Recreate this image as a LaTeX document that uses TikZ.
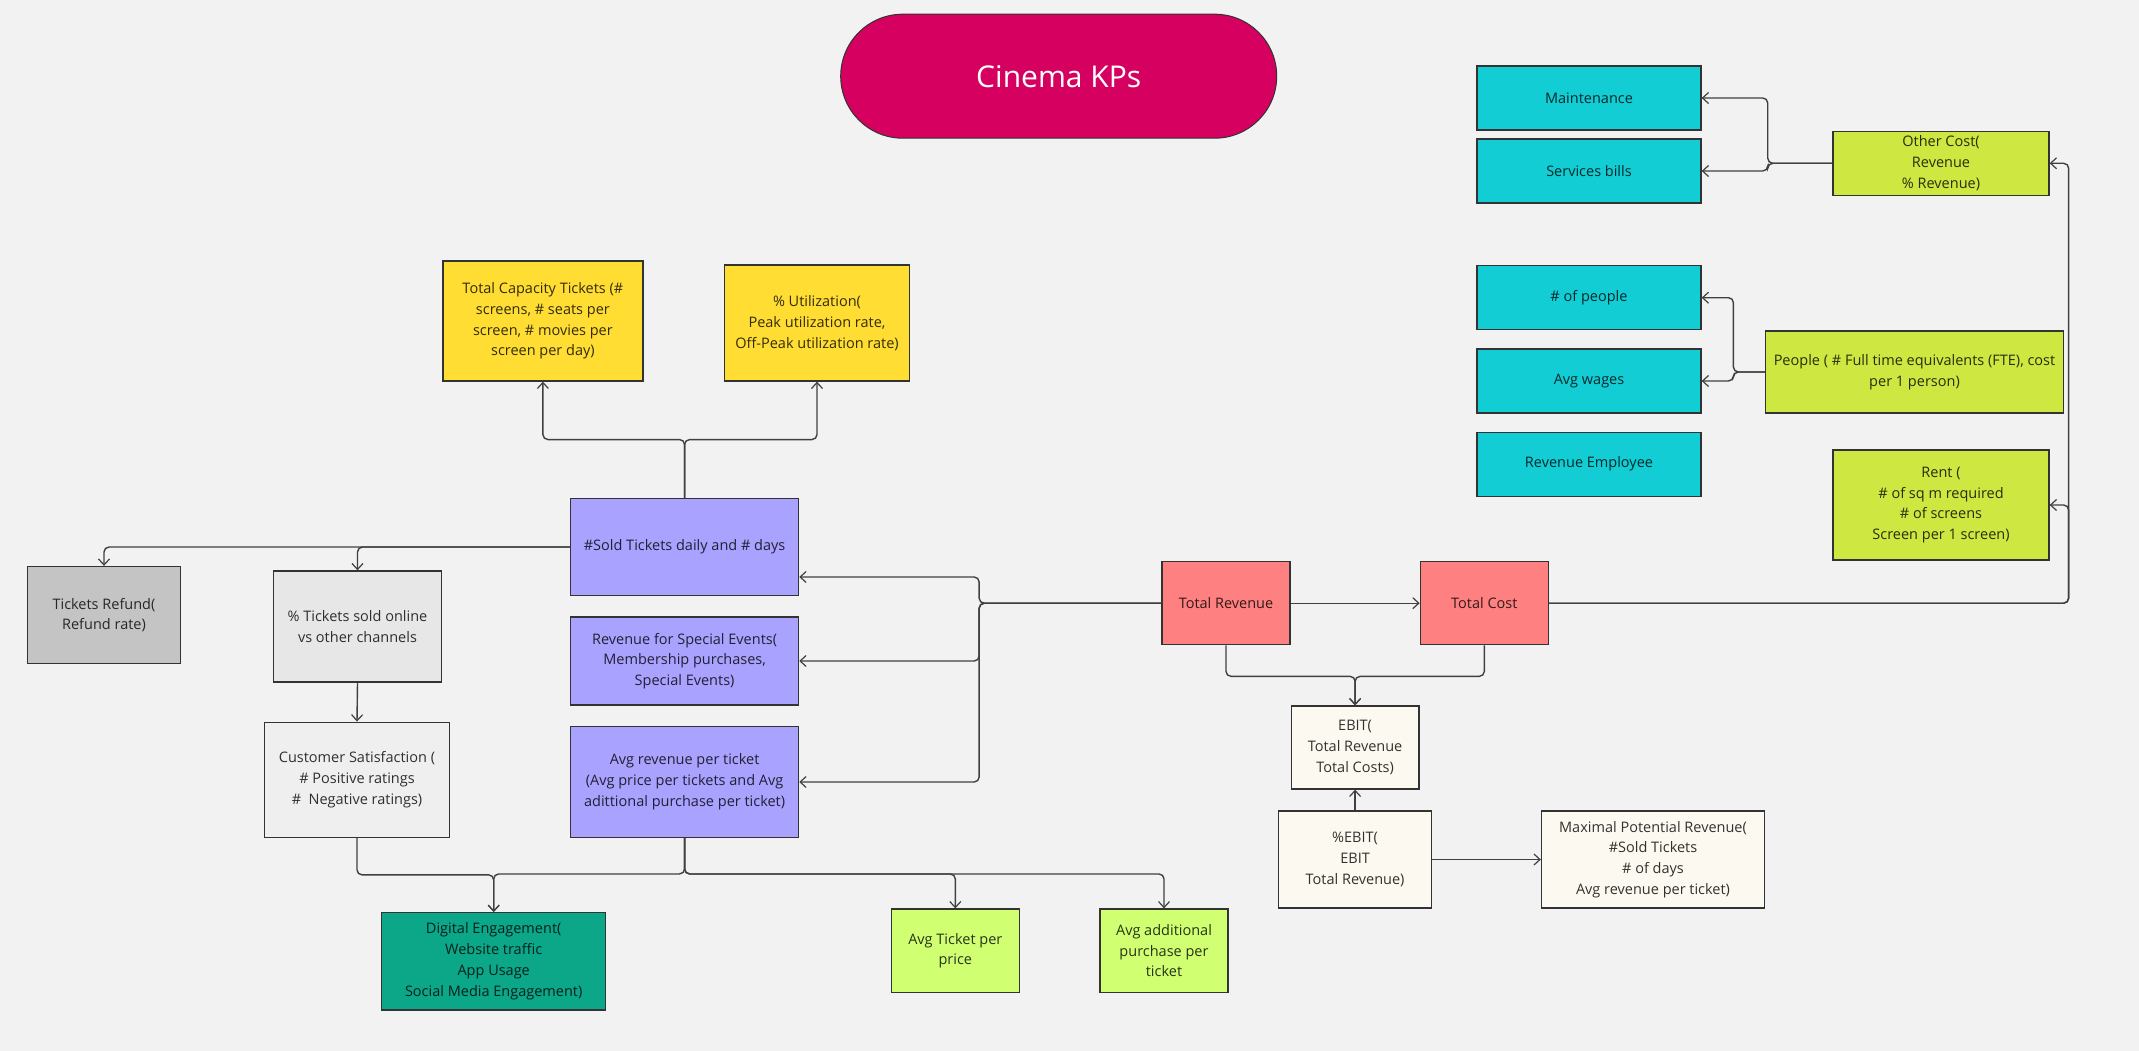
\documentclass[tikz,border=0pt]{standalone}
\usepackage{fontspec}
\setmainfont{Open Sans}
\usetikzlibrary{arrows.meta,calc}
\definecolor{bg}{RGB}{242,242,242}
\definecolor{cTitle}{RGB}{214,0,96}
\definecolor{cTeal}{RGB}{18,205,212}
\definecolor{cLime}{RGB}{206,231,65}
\definecolor{cYellow}{RGB}{255,221,51}
\definecolor{cPurple}{RGB}{170,162,255}
\definecolor{cGray}{RGB}{196,196,196}
\definecolor{cLGray}{RGB}{231,231,231}
\definecolor{cXGray}{RGB}{239,239,239}
\definecolor{cGreen}{RGB}{12,167,137}
\definecolor{cLLime}{RGB}{208,255,113}
\definecolor{cSalmon}{RGB}{255,128,128}
\definecolor{cCream}{RGB}{252,249,240}
\begin{document}
\begin{tikzpicture}[x=1pt,y=-1pt,
  box/.style={draw=black!80, line width=1.3pt, align=center, inner sep=0pt,
    text=black, text opacity=0.8, font=\fontsize{14.5}{20.8}\selectfont},
  sz/.style 2 args={minimum width=#1pt, minimum height=#2pt},
  conn/.style={draw=black!75, line width=1.4pt, rounded corners=5pt},
  arr/.style={conn, -{Straight Barb[length=6pt,width=11pt,line width=1.2pt]}},
]
\fill[bg] (0,0) rectangle (2139,1051);
\useasboundingbox (0,0) rectangle (2139,1051);

% title
\node[box, fill=cTitle, sz={436}{124}, rounded corners=62pt, line width=1pt,
  text=white, text opacity=1, font=\fontsize{30}{36}\selectfont] (title) at (1058.7,76.2) {Cinema KPs};

% cost side
\node[box, fill=cTeal, sz={224}{64}] (maint) at (1589,98) {Maintenance};
\node[box, fill=cTeal, sz={224}{64}] (serv) at (1589,171) {Services bills};
\node[box, fill=cLime, sz={216}{64}] (other) at (1941,163.3) {Other Cost(\\Revenue\\\% Revenue)};
\node[box, fill=cTeal, sz={224}{64}] (npeople) at (1589,297.7) {\# of people};
\node[box, fill=cTeal, sz={224}{64}] (wages) at (1589,381) {Avg wages};
\node[box, fill=cTeal, sz={224}{64}] (revemp) at (1589,464.2) {Revenue Employee};
\node[box, fill=cLime, sz={297.5}{82}] (people) at (1914.5,372) {People ( \# Full time equivalents (FTE), cost\\per 1 person)};
\node[box, fill=cLime, sz={216}{110}] (rent) at (1941,505) {Rent (\\\# of sq m required\\\# of screens\\Screen per 1 screen)};

% ticket side
\node[box, fill=cYellow, sz={200}{120}] (cap) at (542.9,321) {Total Capacity Tickets (\#\\screens, \# seats per\\screen, \# movies per\\screen per day)};
\node[box, fill=cYellow, sz={185}{116}] (util) at (817,323) {\% Utilization(\\Peak utilization rate,\\Off-Peak utilization rate)};
\node[box, fill=cPurple, sz={228}{97}] (sold) at (684.6,547) {\#Sold Tickets daily and \# days};
\node[box, fill=cPurple, sz={228}{88}] (special) at (684.6,661) {Revenue for Special Events(\\Membership purchases,\\Special Events)};
\node[box, fill=cPurple, sz={228}{110.6}] (avgrev) at (684.6,782) {Avg revenue per ticket\\(Avg price per tickets and Avg\\adittional purchase per ticket)};
\node[box, fill=cGray, sz={153}{97}] (refund) at (104,615) {Tickets Refund(\\Refund rate)};
\node[box, fill=cLGray, sz={168.5}{111}] (online) at (357.5,626.5) {\% Tickets sold online\\vs other channels};
\node[box, fill=cXGray, sz={185}{115}] (satis) at (357,779.7) {Customer Satisfaction (\\\# Positive ratings\\\#\ \ Negative ratings)};
\node[box, fill=cGreen, sz={224}{97.3}] (digital) at (493.7,961.3) {Digital Engagement(\\Website traffic\\App Usage\\Social Media Engagement)};
\node[box, fill=cLLime, sz={128}{83.3}] (avgticket) at (955.3,950.7) {Avg Ticket per\\price};
\node[box, fill=cLLime, sz={128}{83.3}] (avgadd) at (1164,950.7) {Avg additional\\purchase per\\ticket};

% finance
\node[box, fill=cSalmon, sz={128}{83}] (totrev) at (1226,603.2) {Total Revenue};
\node[box, fill=cSalmon, sz={128}{83}] (totcost) at (1484.3,603.2) {Total Cost};
\node[box, fill=cCream, sz={127.6}{83}] (ebit) at (1355.1,747.5) {EBIT(\\Total Revenue\\Total Costs)};
\node[box, fill=cCream, sz={153}{97}] (pebit) at (1355.1,859.5) {\%EBIT(\\EBIT\\Total Revenue)};
\node[box, fill=cCream, sz={223}{97}] (maxrev) at (1653,859.5) {Maximal Potential Revenue(\\\#Sold Tickets\\\# of days\\Avg revenue per ticket)};

% connectors
\draw[arr] (sold.north) -- ++(0,-58.3) -| (cap.south);
\draw[arr] (sold.north) -- ++(0,-58.3) -| (util.south);
\draw[arr] (sold.west) -| (refund.north);
\draw[arr] (sold.west) -| (online.north);
\draw[arr] (online.south) -- (satis.north);
\draw[arr] (satis.south) -- ++(0,37) -| (digital.north);
\draw[arr] (avgrev.south) -- ++(0,36) -| (digital.north);
\draw[arr] (avgrev.south) -- ++(0,36) -| (avgticket.north);
\draw[arr] (avgrev.south) -- ++(0,36) -| (avgadd.north);
\draw[arr] (totrev.west) -- ++(-182.2,0) |- ($(sold.east)+(0,30)$);
\draw[arr] (totrev.west) -- ++(-182.2,0) |- (special.east);
\draw[arr] (totrev.west) -- ++(-182.2,0) |- (avgrev.east);
\draw[arr] (totrev.east) -- (totcost.west);
\draw[arr] (totcost.east) -- ++(519.7,0) |- (other.east);
\draw[arr] (totcost.east) -- ++(519.7,0) |- (rent.east);
\draw[arr] (other.west) -- ++(-64.6,0) |- (maint.east);
\draw[arr] (other.west) -- ++(-64.6,0) |- (serv.east);
\draw[arr] (people.west) -- ++(-31.7,0) |- (npeople.east);
\draw[arr] (people.west) -- ++(-31.7,0) |- (wages.east);
\draw[arr] (totrev.south) -- ++(0,31) -| (ebit.north);
\draw[arr] (totcost.south) -- ++(0,31) -| (ebit.north);
\draw[arr] (pebit.north) -- (ebit.south);
\draw[arr] (pebit.east) -- (maxrev.west);
\end{tikzpicture}
\end{document}
